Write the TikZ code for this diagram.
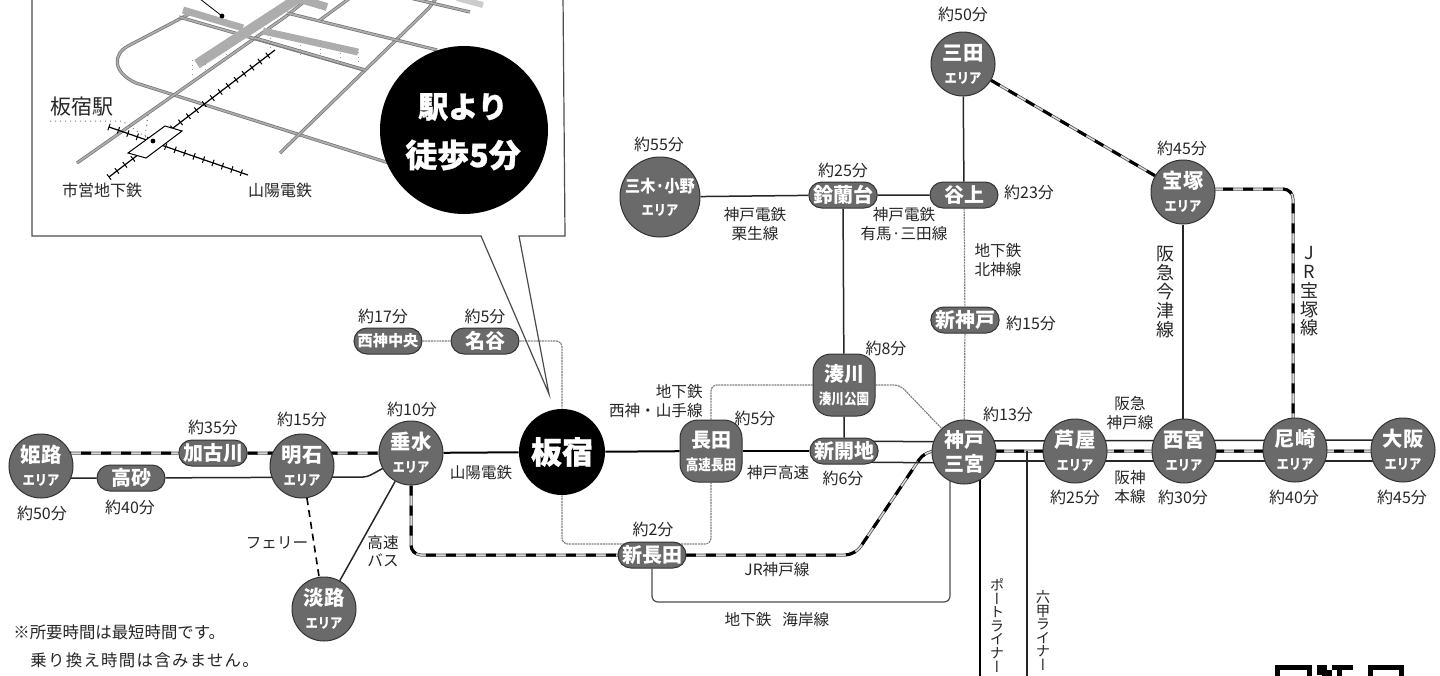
\documentclass[tikz,border=0pt]{standalone}
\usepackage{graphicx}
\usepackage{fontspec}
\setmainfont{Noto Sans CJK JP}
\newfontfamily\vjp[RawFeature={+vert}]{Noto Sans CJK JP}
\usetikzlibrary{shapes.misc,backgrounds,decorations.pathreplacing}
\definecolor{stn}{HTML}{6A6A6A}
\newcommand{\subT}[1]{{\fontsize{7}{7.5}\selectfont\bfseries\scalebox{.88}[1]{#1}}}
\newcommand{\areaT}[2]{{\fontsize{10.2}{11}\selectfont\bfseries #1}\\[-.5pt]\subT{#2}}
\newcommand{\subS}[1]{{\fontsize{7.4}{8}\selectfont\bfseries\scalebox{.85}[1]{#1}}}
\tikzset{
  x=0.5pt,y=-0.5pt,
  area/.style={circle,fill=stn,draw=black!80,line width=.5pt,minimum size=32pt,inner sep=-6pt,text=white,align=center},
  pill/.style={rounded rectangle,fill=stn,draw=black!80,line width=.5pt,minimum width=34pt,minimum height=13pt,inner sep=0pt,text=white,font=\fontsize{10}{11}\selectfont\bfseries},
  squarestn/.style={rectangle,rounded corners=9pt,fill=stn,draw=black!80,line width=.5pt,minimum size=31pt,inner sep=0pt,text=white,align=center},
  lbl/.style={inner sep=0pt,text=black!85,font=\fontsize{7.8}{9.2}\selectfont,align=center},
  tm/.style={lbl,font=\fontsize{8}{9}\selectfont},
  solidln/.style={draw=black!85,line width=.75pt,rounded corners=2pt},
  thickln/.style={draw=black,line width=1pt,rounded corners=2pt},
  subway/.style={draw=black!50,line width=.6pt,dash pattern=on 1pt off .4pt,rounded corners=3pt},
  jr/.style={draw=black!70,line width=1.5pt,rounded corners=5pt,
     postaction={draw=white!85!black,line width=.75pt,solid},
     postaction={draw=black,line width=1.5pt,dash pattern=on 5pt off 5pt}},
  road/.style={draw=black!55,line width=.35pt,double=black!32,double distance=.9pt},
  arcade/.style={draw=black!32,line width=3.5pt},
  rail/.style={draw=black,line width=.5pt,decorate,decoration={ticks,segment length=5pt,amplitude=1.7pt}},
  railbase/.style={draw=black,line width=.6pt},
}
\begin{document}
\begin{tikzpicture}
\useasboundingbox (0,0) rectangle (1440,675);
\clip (0,0) rectangle (1440,675);

% ---- map in the call-out ----
\draw[black!70,line width=.6pt] (32,-5) -- (32,236) -- (481,236) -- (549,394) -- (519,236) -- (565,236) -- (563,-5);
\draw[road] (193,12) -- (128,46) .. controls (113,54) and (112,72) .. (136,83) -- (389,163);
\draw[road] (77,163) -- (285,17) -- (310,-3);
\draw[road] (280,153) -- (429,8) -- (437,-3);
\draw[road] (179,17) -- (364,70);
\draw[road] (287,13) -- (437,50);
\draw[road] (410,-2) -- (470,12);
\draw[road] (255,38) -- (365,70);
\draw[road] (320,20) -- (350,-2);
\draw[arcade,line width=5pt] (197,64) -- (300,-3);
\draw[arcade] (263,31) -- (358,52);
\draw[arcade] (183,10) -- (243,28);
\draw[arcade,line width=4pt] (300,-1) -- (327,7);
\draw[arcade,line width=3pt,draw=black!20] (457,-2) -- (483,5);
\foreach \a/\b in {192/60,205/55,226/45,358/52,340/48,300/40,320/44,270/33}{
  \draw[black!40,line width=.3pt,dotted] (\a,\b) -- (\a,\b+16);}
\draw[railbase,postaction={rail}] (109,177) -- (275,50);
\draw[railbase,postaction={rail}] (109,127) -- (248,175);
\draw[fill=white,draw=black,line width=.5pt] (165,126) -- (182,131) -- (146,158) -- (128,153) -- cycle;
\fill[black] (153,141) circle (1.2pt);
\fill[black] (222,16) circle (1.2pt);
\draw[black,line width=.4pt] (200,-1) -- (222,16);
\draw[black!55,line width=.5pt,dotted] (50,121) -- (122,121) -- (146,137);
\draw[black!55,line width=.5pt,dotted] (148,115) -- (145,137);
\node[inner sep=0pt,text=black!85,font=\fontsize{10.5}{12}\selectfont] (itajukueki) at (82,107) {板宿駅};
\node[inner sep=0pt,text=black!85,font=\fontsize{8}{10}\selectfont] (shiei) at (102,190) {市営地下鉄};
\node[inner sep=0pt,text=black!85,font=\fontsize{8}{10}\selectfont] (sanyomap) at (280,190) {山陽電鉄};
\node[circle,fill=black,minimum size=84pt,inner sep=0pt] (walk) at (464,130) {};
\node[inner sep=0pt,text=white,font=\fontsize{15}{16}\selectfont\bfseries\addfontfeature{FakeBold=1}] (walk1) at (463,107) {駅より};
\node[inner sep=0pt,text=white,font=\fontsize{16}{17}\selectfont\bfseries\addfontfeature{FakeBold=1}] (walk2) at (463,155) {徒歩5分};

% ---- stations ----
\node[area] (himeji) at (41,466) {\areaT{姫路}{エリア}};
\node[pill] (takasago) at (131,478) {高砂};
\node[pill] (kakogawa) at (213,453) {加古川};
\node[area] (akashi) at (302,466) {\areaT{明石}{エリア}};
\node[area] (tarumi) at (411,453) {\areaT{垂水}{エリア}};
\node[area] (awaji) at (324,609) {\areaT{淡路}{エリア}};
\node[circle,fill=black,minimum size=43pt,inner sep=0pt,text=white,font=\fontsize{15.5}{16}\selectfont\bfseries\addfontfeature{FakeBold=1}] (itayado) at (562,452) {板宿};
\node[squarestn] (nagata) at (711,451) {{\fontsize{10}{11}\selectfont\bfseries 長田}\\[-.5pt]\subS{高速長田}};
\node[pill] (shinkaichi) at (844,451) {新開地};
\node[squarestn] (minatogawa) at (844,385) {{\fontsize{10}{11}\selectfont\bfseries 湊川}\\[-.5pt]\subS{湊川公園}};
\node[area] (sannomiya) at (964,452) {{\fontsize{10}{11}\selectfont\bfseries 神戸}\\{\fontsize{10}{11}\selectfont\bfseries 三宮}};
\node[area] (ashiya) at (1075,451) {\areaT{芦屋}{エリア}};
\node[area] (nishinomiya) at (1184,451) {\areaT{西宮}{エリア}};
\node[area] (amagasaki) at (1295,450) {\areaT{尼崎}{エリア}};
\node[area] (osaka) at (1403,450) {\areaT{大阪}{エリア}};
\node[area] (takarazuka) at (1183,192) {\areaT{宝塚}{エリア}};
\node[area] (sanda) at (963,64) {\areaT{三田}{エリア}};
\node[area,minimum size=40pt] (miki) at (660,197) {{\fontsize{8.4}{10}\selectfont\bfseries\scalebox{.9}[1]{三木·小野}}\\[-.5pt]\subT{エリア}};
\node[pill] (suzurandai) at (843,195) {鈴蘭台};
\node[pill] (tanigami) at (964,195) {谷上};
\node[pill] (shinkobe) at (965,320) {新神戸};
\node[pill] (myodani) at (485,341) {名谷};
\node[pill,minimum width=34pt,minimum height=13pt,font=\fontsize{7.6}{9}\selectfont\bfseries] (seishin) at (388,341) {西神中央};
\node[pill] (shinnagata) at (652,555) {新長田};

% ---- free ends and bends ----
\coordinate (sanyoBendA) at (367,477);
\coordinate (jrBendA) at (411,555);
\coordinate (jrBendB) at (855,555);
\coordinate (jrBendC) at (925,451);
\coordinate (jrBendD) at (1293,189);
\coordinate (portEnd) at (980,680);
\coordinate (rokkoStart) at (1027,451);
\coordinate (rokkoEnd) at (1027,680);
\coordinate (kaiganA) at (652,602);
\coordinate (kaiganB) at (950,602);
\coordinate (westA) at (562,341);
\coordinate (westB) at (562,544);
\coordinate (westC) at (711,544);
\coordinate (westD) at (711,385);
\coordinate (minaE) at (900,385);
\coordinate (jrKobeEast) at (964,451);

\begin{scope}[on background layer]
\fill[white] (0,0) rectangle (1440,675);
% JR Kobe line
\draw[jr] (himeji |- kakogawa) -- (kakogawa) -- (tarumi);
\draw[jr] (tarumi) -- (jrBendA) -- (jrBendB) -- (jrBendC) -- (jrKobeEast) -- (osaka |- jrKobeEast);
\draw[jr] (sanda) -- (takarazuka);
\draw[jr] (takarazuka |- jrBendD) -- (jrBendD) -- (jrBendD |- amagasaki);
% Sanyo
\draw[solidln] (himeji |- takasago) -- (takasago) -- (sanyoBendA) -- (tarumi);
\draw[thickln] (tarumi) -- (itayado);
\draw[thickln] (itayado) -- (nagata);
\draw[thickln] (nagata) -- (shinkaichi);
% Kobe Kosoku parallel to Sannomiya
\draw[solidln] ([yshift=5pt]shinkaichi.center) -- ([yshift=5pt]sannomiya.center);
\draw[solidln] ([yshift=-5.5pt]shinkaichi.center) -- ([yshift=-5.5pt]sannomiya.center);
% Hankyu and Hanshin
\draw[solidln] ([yshift=5.5pt]sannomiya.center) -- ([yshift=5pt]osaka.center);
\draw[solidln] ([yshift=-4.5pt]sannomiya.center) -- ([yshift=-5.5pt]osaka.center);
% others
\draw[solidln] (miki) -- (suzurandai);
\draw[solidln] (suzurandai) -- (tanigami);
\draw[solidln] (suzurandai) -- (minatogawa);
\draw[solidln] (minatogawa) -- (shinkaichi);
\draw[solidln] (sanda) -- (tanigami);
\draw[subway] (tanigami) -- (shinkobe);
\draw[subway] (shinkobe) -- (sannomiya);
\draw[solidln] (takarazuka) -- (takarazuka |- nishinomiya);
\draw[subway] (seishin) -- (myodani);
\draw[subway] (myodani) -- (westA) -- (itayado);
\draw[subway] (itayado) -- (westB) -- (westC) -- (nagata);
\draw[subway] (nagata) -- (westD) -- (minatogawa);
\draw[subway] (minatogawa) -- (minaE) -- (sannomiya);
\draw[draw=black!70,line width=.6pt,rounded corners=3pt] (shinnagata) -- (kaiganA) -- (kaiganB) -- (kaiganB |- sannomiya);
\draw[thickln] (sannomiya.center -| portEnd) -- (portEnd);
\draw[solidln] (rokkoStart) -- (rokkoEnd);
\draw[draw=black,line width=.8pt,dash pattern=on 3.5pt off 2.5pt] (akashi) -- (awaji);
\draw[solidln] (tarumi) -- (awaji);
\end{scope}

% ---- labels ----
\node[tm] (t01) at (42,513) {約50分};
\node[tm] (t02) at (130,507) {約40分};
\node[tm] (t03) at (213,427) {約35分};
\node[tm] (t04) at (302,419) {約15分};
\node[tm] (t05) at (412,409) {約10分};
\node[tm] (t06) at (383,316) {約17分};
\node[tm] (t07) at (485,316) {約5分};
\node[tm] (t08) at (755,418) {約5分};
\node[tm] (t09) at (886,348) {約8分};
\node[tm] (t10) at (843,478) {約6分};
\node[tm] (t11) at (653,529) {約2分};
\node[tm] (t12) at (1008,414) {約13分};
\node[tm] (t13) at (1075,497) {約25分};
\node[tm] (t14) at (1183,497) {約30分};
\node[tm] (t15) at (1294,497) {約40分};
\node[tm] (t16) at (1402,497) {約45分};
\node[tm] (t17) at (1182,148) {約45分};
\node[tm] (t18) at (963,14) {約50分};
\node[tm] (t19) at (659,144) {約55分};
\node[tm] (t20) at (843,170) {約25分};
\node[tm] (t21) at (1029,192) {約23分};
\node[tm] (t22) at (1031,323) {約15分};

\node[lbl] (l01) at (277,543) {フェリー};
\node[lbl,align=center] (l02) at (383,551) {高速\\バス};
\node[lbl] (l03) at (481,473) {山陽電鉄};
\node[lbl,align=right,anchor=east] (l04) at (703,401) {地下鉄\\西神・山手線};
\node[lbl] (l05) at (778,473) {神戸高速};
\node[lbl] (l06) at (777,570) {JR神戸線};
\node[lbl] (l07) at (777,620) {地下鉄\hspace{.7em}海岸線};
\node[lbl] (l08) at (1130,413) {阪急\\神戸線};
\node[lbl] (l09) at (1130,487) {阪神\\本線};
\node[lbl] (l10) at (755,224) {神戸電鉄\\栗生線};
\node[lbl] (l11) at (904,224) {神戸電鉄\\有馬·三田線};
\node[lbl] (l12) at (998,260) {地下鉄\\北神線};

\node[lbl,align=center,anchor=north,font=\fontsize{9}{9.4}\selectfont] (v1) at (1165,246) {阪\\急\\今\\津\\線};
\node[lbl,align=center,anchor=north,font=\fontsize{9}{9.4}\selectfont] (v2) at (1309,246) {J\\R\\宝\\塚\\線};
\node[lbl,align=center,anchor=north,font=\fontsize{7.2}{6.8}\vjp\selectfont] (v3) at (997,578) {ポ\\ー\\ト\\ラ\\イ\\ナ\\ー};
\node[lbl,align=center,anchor=north,font=\fontsize{7.2}{6.8}\vjp\selectfont] (v4) at (1043,590) {六\\甲\\ラ\\イ\\ナ\\ー};

\node[inner sep=0pt,anchor=west,text=black!85,font=\fontsize{8.2}{10}\selectfont] (note1) at (13,632) {※所要時間は最短時間です。};
\node[inner sep=0pt,anchor=west,text=black!85,font=\fontsize{8.2}{10}\selectfont\addfontfeature{LetterSpace=8}] (note2) at (30,660) {乗り換え時間は含みません。};

% ---- top of the code cut by the page edge ----
\fill[black] (1275,665) rectangle (1312,680);
\fill[white] (1280,670) rectangle (1307,680);
\fill[black] (1368,665) rectangle (1404,680);
\fill[white] (1373,670) rectangle (1399,680);
\fill[black] (1317,665) rectangle (1327,675);
\fill[black] (1332,665) rectangle (1353,670);
\fill[black] (1322,670) rectangle (1332,680);
\fill[black] (1337,670) rectangle (1342,680);
\end{tikzpicture}
\end{document}
